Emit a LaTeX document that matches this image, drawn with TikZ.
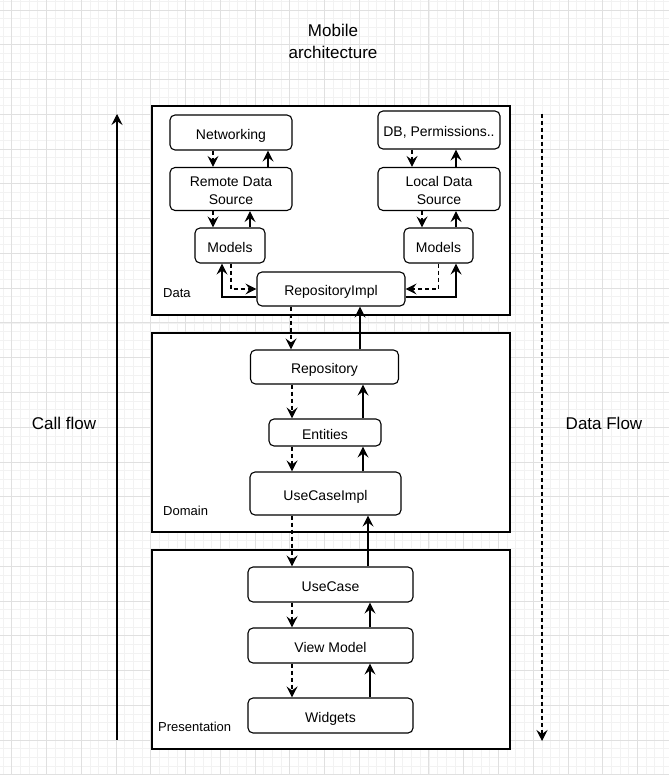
\documentclass[tikz,border=0pt]{standalone}
\usepackage{fontspec}
\setmainfont{Liberation Sans}
\usetikzlibrary{arrows.meta}

\begin{document}
\begin{tikzpicture}[x=1pt,y=-1pt,
	gridminor/.style={draw=black!5,line width=0.6pt},
	gridmajor/.style={draw=black!12,line width=0.7pt},
	layer/.style 2 args={draw,line width=1.1pt,fill=white,minimum width=#1pt,minimum height=#2pt,inner sep=0pt},
	block/.style 2 args={draw,rounded corners=5pt,fill=white,line width=1.1pt,align=center,inner sep=0pt,minimum width=#1pt,minimum height=#2pt,text height=16pt,text depth=2.8pt,font=\fontsize{14}{18}\selectfont},
	twoline/.style={text height=32pt,text depth=0.8pt},
	layerlabel/.style={anchor=west,inner sep=0pt,font=\fontsize{13}{16}\selectfont},
	bigtext/.style={align=center,inner sep=0pt,font=\fontsize{17}{22}\selectfont},
	back/.style={line width=1.1pt,-{Stealth[length=11pt,width=11pt,inset=4pt]}},
	call/.style={back,dash pattern=on 4pt off 3pt}]
	\useasboundingbox (0,0) rectangle (669,775);
	\foreach \i in {-1,...,76} \draw[gridminor] ({11.7+8.69*\i},0) -- ({11.7+8.69*\i},775);
	\foreach \i in {-1,...,88} \draw[gridminor] (0,{10+8.69*\i}) -- (669,{10+8.69*\i});
	\foreach \i in {0,...,18} \draw[gridmajor] ({11.7+34.76*\i},0) -- ({11.7+34.76*\i},775);
	\foreach \i in {0,...,22} \draw[gridmajor] (0,{10+34.76*\i}) -- (669,{10+34.76*\i});

	\node[bigtext] (title) at (333,41) {Mobile\\architecture};
	\node[bigtext] (callflow) at (64,423) {Call flow};
	\node[bigtext] (dataflow) at (604,423) {Data Flow};

	\node[layer={358}{209}] (data) at (331,210.5) {};
	\node[layer={358}{199}] (domain) at (331,432.5) {};
	\node[layer={358}{199}] (presentation) at (331,649.5) {};
	\node[layerlabel] (datalbl) at (163,293) {Data};
	\node[layerlabel] (domainlbl) at (163,511) {Domain};
	\node[layerlabel] (presentationlbl) at (158,727) {Presentation};

	\node[block={122}{35}] (net) at (231,132.5) {Networking};
	\node[block={122}{43},twoline] (rds) at (231,189) {Remote Data\\Source};
	\node[block={70}{35}] (modl) at (230,245.5) {Models};
	\node[block={122}{38}] (db) at (439,130) {DB, Permissions..};
	\node[block={122}{43},twoline] (lds) at (439,189) {Local Data\\Source};
	\node[block={69}{35}] (modr) at (438.5,245.5) {Models};
	\node[block={148}{34}] (rimpl) at (331,289) {RepositoryImpl};
	\node[block={148}{34}] (repo) at (324.5,367) {Repository};
	\node[block={112}{27}] (ent) at (325,432.5) {Entities};
	\node[block={151}{43}] (uci) at (325.5,493.5) {UseCaseImpl};
	\node[block={165}{35}] (uc) at (330.5,584.5) {UseCase};
	\node[block={165}{35}] (vm) at (330.5,645.5) {View Model};
	\node[block={165}{35}] (wid) at (330.5,715.5) {Widgets};

	\draw[call] ([xshift=-18pt]net.south) -- ([xshift=-18pt]net.south |- rds.north);
	\draw[back] ([xshift=37pt]rds.north) -- ([xshift=37pt]rds.north |- net.south);
	\draw[call] ([xshift=-18pt]rds.south) -- ([xshift=-18pt]rds.south |- modl.north);
	\draw[back] ([xshift=20pt]modl.north) -- ([xshift=20pt]modl.north |- rds.south);
	\draw[call] ([xshift=-27pt]db.south) -- ([xshift=-27pt]db.south |- lds.north);
	\draw[back] ([xshift=17pt]lds.north) -- ([xshift=17pt]lds.north |- db.south);
	\draw[call] ([xshift=-17pt]lds.south) -- ([xshift=-17pt]lds.south |- modr.north);
	\draw[back] ([xshift=17.5pt]modr.north) -- ([xshift=17.5pt]modr.north |- lds.south);
	\draw[call] ([xshift=1pt]modl.south) |- (rimpl.west);
	\draw[back] ([yshift=-8pt]rimpl.west) -| ([xshift=-8pt]modl.south);
	\draw[call] (modr.south) |- (rimpl.east);
	\draw[back] ([yshift=-8pt]rimpl.east) -| ([xshift=17.5pt]modr.south);

	\draw[call] ([xshift=-40pt]rimpl.south) -- ([xshift=-40pt]rimpl.south |- repo.north);
	\draw[back] ([xshift=35.5pt]repo.north) -- ([xshift=35.5pt]repo.north |- rimpl.south);
	\draw[call] ([xshift=-32.5pt]repo.south) -- ([xshift=-32.5pt]repo.south |- ent.north);
	\draw[back] ([xshift=38pt]ent.north) -- ([xshift=38pt]ent.north |- repo.south);
	\draw[call] ([xshift=-33pt]ent.south) -- ([xshift=-33pt]ent.south |- uci.north);
	\draw[back] ([xshift=37.5pt]uci.north) -- ([xshift=37.5pt]uci.north |- ent.south);
	\draw[call] ([xshift=-33.5pt]uci.south) -- ([xshift=-33.5pt]uci.south |- uc.north);
	\draw[back] ([xshift=37.5pt]uc.north) -- ([xshift=37.5pt]uc.north |- uci.south);
	\draw[call] ([xshift=-38.5pt]uc.south) -- ([xshift=-38.5pt]uc.south |- vm.north);
	\draw[back] ([xshift=39.5pt]vm.north) -- ([xshift=39.5pt]vm.north |- uc.south);
	\draw[call] ([xshift=-38.5pt]vm.south) -- ([xshift=-38.5pt]vm.south |- wid.north);
	\draw[back] ([xshift=39.5pt]wid.north) -- ([xshift=39.5pt]wid.north |- vm.south);

	\coordinate (cfbot) at (117,740);
	\coordinate (cftop) at (117,114);
	\coordinate (dftop) at (542,114);
	\coordinate (dfbot) at (542,741);
	\draw[back] (cfbot) -- (cftop);
	\draw[call] (dftop) -- (dfbot);
\end{tikzpicture}
\end{document}
